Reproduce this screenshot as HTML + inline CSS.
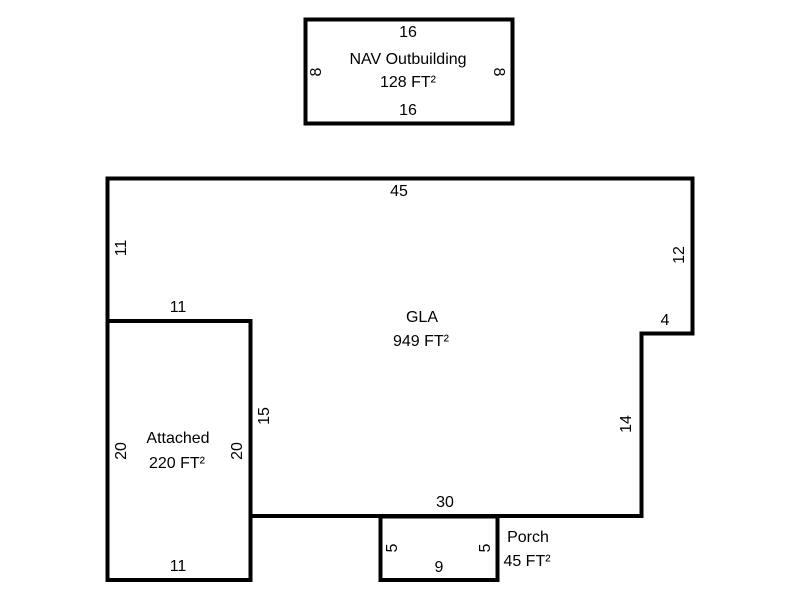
<!DOCTYPE html>
<html><head><style>body{margin:0;background:#fff}</style></head><body>
<svg width="800" height="600" xmlns="http://www.w3.org/2000/svg" style="display:block">
<g fill="none" stroke="#000" stroke-width="4" stroke-linejoin="miter">
<rect x="305.5" y="19.5" width="207" height="104"/>
<polyline points="107.5,321 107.5,178.5 692.5,178.5 692.5,333.5 641.5,333.5 641.5,516 250,516"/>
<rect x="107.5" y="321" width="143" height="259"/>
<rect x="380.5" y="516.5" width="117" height="63.5"/>
</g>
<g font-family="Liberation Sans, Arial, sans-serif" font-size="16" fill="#000" text-anchor="middle">
<text x="408" y="37">16</text>
<text x="408" y="64">NAV Outbuilding</text>
<text x="408" y="87">128 FT²</text>
<text x="408" y="115">16</text>
<text transform="translate(321,72) rotate(-90)">8</text>
<text transform="translate(494,72) rotate(90)">8</text>
<text x="399" y="196">45</text>
<text transform="translate(126,248) rotate(-90)">11</text>
<text transform="translate(684,255) rotate(-90)">12</text>
<text x="178" y="312">11</text>
<text x="422" y="322">GLA</text>
<text x="421" y="346">949 FT²</text>
<text x="665" y="325">4</text>
<text transform="translate(269,416) rotate(-90)">15</text>
<text transform="translate(631,424) rotate(-90)">14</text>
<text x="178" y="443">Attached</text>
<text x="177" y="468">220 FT²</text>
<text transform="translate(126,451) rotate(-90)">20</text>
<text transform="translate(242,451) rotate(-90)">20</text>
<text x="445" y="507">30</text>
<text x="528" y="542">Porch</text>
<text x="527" y="566">45 FT²</text>
<text transform="translate(397,548) rotate(-90)">5</text>
<text transform="translate(490,548) rotate(-90)">5</text>
<text x="439" y="572">9</text>
<text x="178" y="571">11</text>
</g>
</svg>
</body></html>
